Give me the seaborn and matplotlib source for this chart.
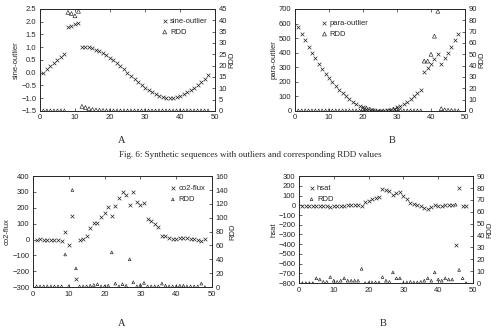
import numpy as np
import pandas as pd
import matplotlib
matplotlib.use("Agg")
import matplotlib.pyplot as plt
import seaborn as sns

sns.set_style("ticks")
plt.rcParams['font.family'] = ['Liberation Sans', 'DejaVu Sans']

# x positions (time index)
idx = list(range(1, 49))

# panel A (top): sine with outliers
sine_outlier = [0.0, 0.13, 0.27, 0.39, 0.51, 0.62, 0.73, 1.8, 1.85, 1.9, 1.95,
                1.0, 1.0, 0.99, 0.95, 0.9, 0.84, 0.77, 0.69, 0.59, 0.49, 0.38, 0.26, 0.13,
                0.0, -0.13, -0.26, -0.38, -0.49, -0.59, -0.69, -0.77, -0.84, -0.9, -0.95,
                -0.99, -1.0, -0.99, -0.95, -0.9, -0.84, -0.77, -0.69, -0.59, -0.49, -0.38,
                -0.26, -0.1]
sine_rdd = [0, 0, 0, 0, 0, 0, 0, 43.5, 43, 42, 44,
            2, 1.5, 1, 0.6, 0.4, 0.3, 0.2, 0.1, 0, 0, 0, 0, 0,
            0, 0, 0, 0, 0, 0, 0, 0, 0, 0, 0, 0, 0, 0, 0, 0, 0, 0, 0, 0, 0, 0, 0, 0]

# panel B (top): parabola with outliers
para_outlier = [576, 529, 484, 441, 400, 361, 324, 289, 256, 225, 196, 169, 144, 121,
                100, 81, 64, 49, 36, 25, 16, 9, 4, 1, 0, 1, 4, 9, 16, 25, 36, 49, 64,
                81, 100, 121, 144, 269, 296, 325, 356, 389, 324, 361, 400, 441, 484, 529]
para_rdd = [0, 0, 0, 0, 0, 0, 0, 0, 0, 0, 0, 0, 0, 0, 0, 0, 0, 0, 0, 2, 2.5, 1.5,
            0.5, 0, 0, 0, 0, 0.5, 1.5, 2, 0.5, 0, 0, 0, 0, 0, 0, 44, 44, 50, 66, 88,
            2, 1, 0.6, 0.4, 0.2, 0]

# panel A (bottom): co2-flux
co2_flux = [0, 3, 0, 0, 0, 0, 0, -8, 50, -35, 150, -250, -3, 5, 20, 70, 105, 105,
            140, 170, 205, 150, 210, 260, 300, 280, 215, 298, 240, 220, 230, 130, 120,
            98, 78, 20, 25, 8, 3, 2, 10, 10, 8, 5, 2, 0, -12, 5]
co2_rdd = [1, 1, 1, 1, 1, 1, 1, 1, 47, 1, 140, 27, 1, 1, 1, 2, 3, 4, 1, 1, 2, 50,
           5, 1, 4, 2, 40, 7, 1, 3, 6, 1, 1, 1, 1, 5, 2, 1, 1, 1, 2, 2, 1, 1, 1, 1, 5, 0]

# panel B (bottom): hsat
hsat = [-5, -10, -10, -10, -5, -5, -10, -12, -20, -5, -5, -8, -12, 0, 0, 0, 0, -10,
        30, 45, 60, 75, 90, 170, 155, 145, 110, 125, 135, 100, 70, 20, 10, 5, -10,
        -25, -35, -20, 5, -10, -5, 5, 5, 0, -410, 180, -5, -10]
hsat_rdd = [0, 0, 0, 0, 4, 3, 1, 1, 5, 2, 1, 2, 4, 2, 2, 2, 2, 12, 0, 0, 0.5, 0.5,
            0.5, 5, 2, 1, 9, 4, 4, 0, 0.5, 1, 0.5, 0.5, 1, 2, 4, 2, 9, 3, 2, 4, 3, 3,
            66, 11, 4, 0]

panels = [
    dict(pos=[0.080, 0.667, 0.351, 0.306], y=sine_outlier, r=sine_rdd, name='sine-outlier',
         ylim=(-1.5, 2.5), yticks=np.arange(-1.5, 2.51, 0.5), rlim=(0, 45), rticks=range(0, 46, 5),
         leg=(0.66, 0.97), tri=8),
    dict(pos=[0.591, 0.667, 0.341, 0.306], y=para_outlier, r=para_rdd, name='para-outlier',
         ylim=(0, 700), yticks=range(0, 701, 100), rlim=(0, 90), rticks=range(0, 91, 10),
         leg=(0.12, 0.95), tri=8),
    dict(pos=[0.066, 0.138, 0.359, 0.333], y=co2_flux, r=co2_rdd, name='co2-flux',
         ylim=(-300, 400), yticks=range(-300, 401, 100), rlim=(0, 160), rticks=range(0, 161, 20),
         leg=(0.73, 0.97), tri=4),
    dict(pos=[0.599, 0.150, 0.349, 0.321], y=hsat, r=hsat_rdd, name='hsat',
         ylim=(-800, 300), yticks=range(-800, 301, 100), rlim=(0, 90), rticks=range(0, 91, 10),
         leg=(0.02, 0.97), tri=4),
]

fig = plt.figure(figsize=(4.99, 3.33), dpi=100)
fs = 5.5

for p in panels:
    ax = fig.add_axes(p['pos'])
    ax2 = ax.twinx()
    df = pd.DataFrame({'t': idx, 'v': p['y'], 'rdd': p['r']})
    sns.scatterplot(data=df, x='t', y='v', marker='x', s=7, color='#222222', linewidth=0.5,
                    ax=ax, label=p['name'], legend=False, zorder=3)
    sns.scatterplot(data=df, x='t', y='rdd', marker='^', s=p['tri'],
                    facecolors='none', edgecolor='#222222', linewidth=0.45,
                    ax=ax2, label='RDD', legend=False, zorder=3)
    ax.set_xlim(0, 50)
    ax.set_ylim(*p['ylim'])
    ax.set_yticks(list(p['yticks']))
    ax2.set_ylim(*p['rlim'])
    ax2.set_yticks(list(p['rticks']))
    ax.set_xticks(range(0, 51, 10))
    ax.set_xlabel('')
    ax.set_ylabel(p['name'], fontsize=fs, labelpad=1)
    ax2.set_ylabel('RDD', fontsize=fs, labelpad=1)
    for a in (ax, ax2):
        a.tick_params(labelsize=fs, length=2, width=0.5, direction='in', pad=2.5)
        for s in a.spines.values():
            s.set_linewidth(0.6)
    ax.tick_params(axis='x', top=True)
    h1, l1 = ax.get_legend_handles_labels()
    h2, l2 = ax2.get_legend_handles_labels()
    ax2.legend(h1 + h2, l1 + l2, loc='upper left', bbox_to_anchor=p['leg'], frameon=False,
               fontsize=fs, handletextpad=0.2, markerscale=1.0, borderpad=0.2,
               labelspacing=0.5, handlelength=1.0)

serif = ['Liberation Serif', 'DejaVu Serif']
fig.text(122 / 499, 1 - 140 / 333, 'A', ha='center', va='center', fontsize=7.5, family=serif)
fig.text(392 / 499, 1 - 140 / 333, 'B', ha='center', va='center', fontsize=7.5, family=serif)
fig.text(250 / 499, 1 - 155 / 333, 'Fig. 6: Synthetic sequences with outliers and corresponding RDD values',
         ha='center', va='center', fontsize=6.5, family=serif)
fig.text(122 / 499, 1 - 323 / 333, 'A', ha='center', va='center', fontsize=7.5, family=serif)
fig.text(383 / 499, 1 - 323 / 333, 'B', ha='center', va='center', fontsize=7.5, family=serif)

fig.savefig('out.png', dpi=100)
